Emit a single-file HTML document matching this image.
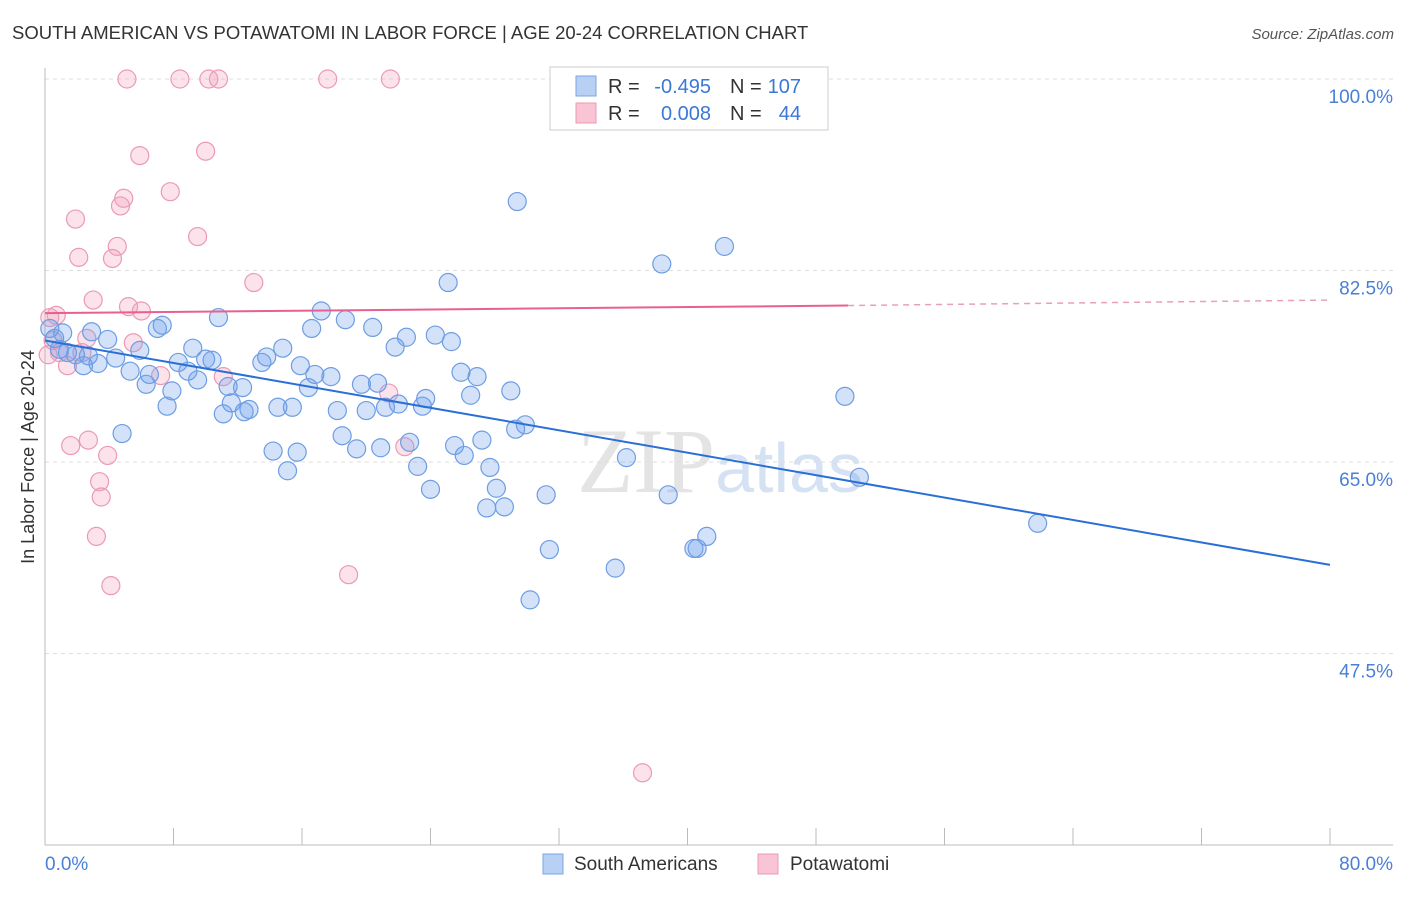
<!DOCTYPE html>
<html><head><meta charset="utf-8"><style>
body{margin:0;background:#fff;font-family:"Liberation Sans",sans-serif}
</style></head><body>
<svg width="1406" height="892" xmlns="http://www.w3.org/2000/svg" id="chart">
<text x="12" y="39" font-size="18.5" fill="#333">SOUTH AMERICAN VS POTAWATOMI IN LABOR FORCE | AGE 20-24 CORRELATION CHART</text>
<text x="1394" y="39" font-size="15" fill="#555" font-style="italic" text-anchor="end">Source: ZipAtlas.com</text>
<text x="720" y="492" font-size="92" fill="#e4e4e4" text-anchor="middle" font-family="Liberation Serif,serif">ZIP<tspan fill="#d5e2f3" font-family="Liberation Sans,sans-serif" font-size="70">atlas</tspan></text>
<g id="grid"></g>
<g id="axes"></g>
<g id="pts"></g>
<g id="lines"></g>
<text x="34" y="457" font-size="18" fill="#333" text-anchor="middle" transform="rotate(-90 34 457)">In Labor Force | Age 20-24</text>
<text x="45" y="870" font-size="19" fill="#4a7fd6">0.0%</text>
<text x="1393" y="870" font-size="19" fill="#4a7fd6" text-anchor="end">80.0%</text>
<g>
<rect x="550" y="67" width="278" height="63" fill="#fff" stroke="#ccc"/>
<rect x="576" y="76" width="20" height="20" fill="#b8d0f3" stroke="#7aa5e6"/>
<rect x="576" y="103" width="20" height="20" fill="#f9c4d4" stroke="#eb9ab4"/>
<text x="608" y="93" font-size="20" fill="#333">R =</text>
<text x="711" y="93" font-size="20" fill="#3a78d8" text-anchor="end">-0.495</text>
<text x="730" y="93" font-size="20" fill="#333">N =</text>
<text x="801" y="93" font-size="20" fill="#3a78d8" text-anchor="end">107</text>
<text x="608" y="120" font-size="20" fill="#333">R =</text>
<text x="711" y="120" font-size="20" fill="#3a78d8" text-anchor="end">0.008</text>
<text x="730" y="120" font-size="20" fill="#333">N =</text>
<text x="801" y="120" font-size="20" fill="#3a78d8" text-anchor="end">44</text>
</g>
<g>
<rect x="543" y="854" width="20" height="20" fill="#b8d0f3" stroke="#7aa5e6"/>
<text x="574" y="870" font-size="19" fill="#333">South Americans</text>
<rect x="758" y="854" width="20" height="20" fill="#f9c4d4" stroke="#eb9ab4"/>
<text x="790" y="870" font-size="19" fill="#333">Potawatomi</text>
</g>
</svg>
<script>
const yTicks=[100,82.5,65,47.5];
const yTickLabels=["100.0%","82.5%","65.0%","47.5%"];
const xTicks=[0,8,16,24,32,40,48,56,64,72,80];
const blueX=[29.4,42.3,38.4,25.1,17.2,10.8,18.7,7.3,16.6,20.4,7.0,2.9,24.3,22.5,25.3,3.9,21.8,14.8,9.2,5.9,13.8,0.9,1.9,4.4,10.0,10.4,8.3,13.5,15.9,3.3,2.4,5.3,8.9,16.8,25.9,26.9,6.5,9.5,17.8,19.7,20.7,6.3,11.4,12.3,16.4,7.9,26.5,29.0,23.7,22.0,11.6,15.4,18.2,23.5,20.0,21.2,7.6,14.5,12.7,11.1,12.4,49.8,29.9,29.3,4.8,18.5,22.7,27.2,25.5,19.4,20.9,14.2,15.7,26.1,36.2,27.7,23.2,15.1,50.7,28.1,24.0,31.2,38.8,27.5,28.6,61.8,41.2,40.4,40.6,31.4,35.5,30.2,0.3,0.6,1.1,1.4,2.7];
const blueY=[88.8,84.7,83.1,81.4,78.8,78.2,78.0,77.5,77.2,77.3,77.2,76.9,76.6,76.4,76.0,76.2,75.5,75.4,75.4,75.2,74.6,75.3,74.8,74.5,74.4,74.3,74.1,74.1,73.8,74.0,73.8,73.3,73.3,73.0,73.2,72.8,73.0,72.5,72.8,72.1,72.2,72.1,71.9,71.8,71.8,71.5,71.1,71.5,70.8,70.3,70.4,70.0,69.7,70.1,69.7,70.0,70.1,70.0,69.8,69.4,69.6,71.0,68.4,68.0,67.6,67.4,66.8,67.0,66.5,66.2,66.3,66.0,65.9,65.6,65.4,64.5,64.6,64.2,63.6,62.6,62.5,62.0,62.0,60.8,60.9,59.4,58.2,57.1,57.1,57.0,55.3,52.4,77.2,76.3,76.8,75.0,74.7];
const pinkX=[5.1,8.4,10.2,10.8,17.6,21.5,43.3,5.9,10.0,4.9,7.8,4.7,1.9,9.5,4.5,2.1,4.2,13.0,3.0,5.2,6.0,0.7,0.3,0.5,2.6,5.5,2.3,0.9,0.2,1.4,7.2,11.1,21.4,2.7,1.6,22.4,3.9,3.4,3.5,3.2,18.9,4.1,37.2];
const pinkY=[100,100,100,100,100,100,100,93.0,93.4,89.1,89.7,88.4,87.2,85.6,84.7,83.7,83.6,81.4,79.8,79.2,78.8,78.4,78.2,76.1,76.3,75.9,75.0,75.0,74.8,73.8,72.9,72.8,71.3,67.0,66.5,66.4,65.6,63.2,61.8,58.2,54.7,53.7,36.6];
const blueTrend=[[0,76.1],[80,55.6]];
const pinkTrend=[[0,78.6],[50,79.3],[80,79.8]];
const NS="http://www.w3.org/2000/svg";
const xs=v=>45+v/80*1285;
const ys=v=>79+(100-v)*191.5/17.5;
function mk(t,a,p){const e=document.createElementNS(NS,t);for(const k in a)e.setAttribute(k,a[k]);p.appendChild(e);return e;}
const grid=document.getElementById('grid'),axes=document.getElementById('axes'),pts=document.getElementById('pts'),lines=document.getElementById('lines');
yTicks.forEach((v,i)=>{
 const l=mk('line',{x1:45,x2:1393,y1:ys(v),y2:ys(v),stroke:'#ddd','stroke-dasharray':'4,4'},grid);
 
 
 const t=mk('text',{x:1393,y:ys(v)+24,'font-size':19,fill:'#4a7fd6','text-anchor':'end'},grid);
 t.textContent=yTickLabels[i];
 
 
});
const ax=mk('line',{x1:45,x2:45,y1:68,y2:845,stroke:'#bbb'},axes);


const bx=mk('line',{x1:45,x2:1393,y1:845,y2:845,stroke:'#bbb'},axes);


xTicks.forEach(v=>{
 const t=mk('line',{x1:xs(v),x2:xs(v),y1:828,y2:845,stroke:'#bbb'},axes);
 
 
});
pinkX.forEach((x,i)=>{
 const c=mk('circle',{cx:xs(x),cy:ys(pinkY[i]),r:9,fill:'rgba(243,160,190,0.3)',stroke:'#eb9ab4','stroke-width':1.2},pts);
 
 
});
blueX.forEach((x,i)=>{
 const c=mk('circle',{cx:xs(x),cy:ys(blueY[i]),r:9,fill:'rgba(110,160,235,0.3)',stroke:'#6d9de3','stroke-width':1.2},pts);
 
 
});
const bl=mk('line',{x1:xs(blueTrend[0][0]),y1:ys(blueTrend[0][1]),x2:xs(blueTrend[1][0]),y2:ys(blueTrend[1][1]),stroke:'#2a6fd6','stroke-width':2},lines);


const pl=mk('line',{x1:xs(pinkTrend[0][0]),y1:ys(pinkTrend[0][1]),x2:xs(pinkTrend[1][0]),y2:ys(pinkTrend[1][1]),stroke:'#e8608f','stroke-width':2},lines);


const pd=mk('line',{x1:xs(pinkTrend[1][0]),y1:ys(pinkTrend[1][1]),x2:xs(pinkTrend[2][0]),y2:ys(pinkTrend[2][1]),stroke:'#e8a0b8','stroke-width':1.5,'stroke-dasharray':'6,5'},lines);


</script>
</body></html>
